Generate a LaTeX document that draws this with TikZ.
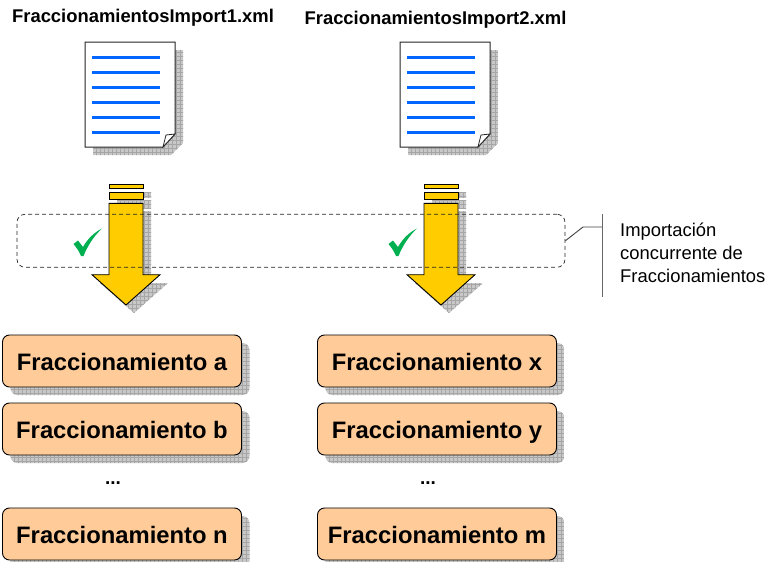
\documentclass[tikz,border=0pt]{standalone}
\usepackage{fontspec}
\setmainfont{Liberation Sans}
\usetikzlibrary{calc}
\definecolor{shadowbg}{HTML}{C8C8C8}
\definecolor{shadowgrid}{HTML}{A6A6A6}
\definecolor{boxfill}{HTML}{FFCC99}
\definecolor{arrowfill}{HTML}{FFCC00}
\definecolor{lineblue}{HTML}{0066FF}
\definecolor{checkgreen}{HTML}{00B050}
\newcommand{\gridshadow}[5]{%
  \begin{scope}
    \clip #1;
    \fill[shadowbg] (#2,#3) rectangle (#4,#5);
    \foreach \gx in {#2,\the\numexpr#2+4\relax,...,#4} {\draw[shadowgrid,line width=0.5pt] (\gx,#3) -- (\gx,#5);}
    \foreach \gy in {#3,\the\numexpr#3+4\relax,...,#5} {\draw[shadowgrid,line width=0.5pt] (#2,\gy) -- (#4,\gy);}
  \end{scope}}
\newcommand{\docicon}[1]{%
  \begin{scope}[xshift=#1pt]
    \gridshadow{(93,50) -- (183,50) -- (183,143) -- (171,155) -- (93,155) -- cycle}{92}{48}{184}{156}
    \draw[docline,fill=white] (85,42) -- (175,42) -- (175,134) -- (163,147) -- (85,147) -- cycle;
    \draw[docline,fill=white,line width=0.8pt] (163,147) -- (166,135) -- (175,134) -- cycle;
    \foreach \ly in {57,72,87,102,117,132} {\draw[textline] (92,\ly) -- (160,\ly);}
  \end{scope}}
\newcommand{\bigarrow}[1]{%
  \begin{scope}[xshift=#1pt]
    \gridshadow{(117,192) rectangle (151,197)}{116}{192}{152}{198}
    \gridshadow{(117,200) rectangle (151,208)}{116}{200}{152}{208}
    \gridshadow{(117,211) -- (151,211) -- (151,283) -- (168,283) -- (134,313) -- (100,283) -- (117,283) -- cycle}{100}{208}{168}{316}
    \draw[arrowline] (109,184.3) rectangle (143,188.7);
    \draw[arrowline] (109,192.3) rectangle (143,199.7);
    \draw[arrowline] (109,203.3) -- (143,203.3) -- (143,274.7) -- (160,274.7) -- (126,305) -- (92,274.7) -- (109,274.7) -- cycle;
  \end{scope}}
\newcommand{\checkmark}[1]{%
  \fill[checkgreen,xshift=#1pt] (73.5,244) -- (78,240.5) -- (83,247) .. controls (88,238) and (95,232) .. (102,228.5) .. controls (94,236) and (88,245) .. (83.5,256) -- (81,256) .. controls (79,251) and (76,247) .. (73.5,244) -- cycle;}
\tikzset{
  docline/.style={draw=black!85,line width=1pt,line join=miter},
  textline/.style={draw=lineblue,line width=3pt},
  arrowline/.style={draw=black,fill=arrowfill,line width=0.9pt,line join=miter},
  fracbox/.style={draw=black,fill=boxfill,line width=0.9pt,rounded corners=7pt,minimum width=239pt,minimum height=52pt,inner sep=0pt,text height=18pt,text depth=0pt,font=\fontsize{23.8}{26}\selectfont\bfseries},
  filetitle/.style={font=\fontsize{18.4}{20}\selectfont\bfseries,inner sep=0pt},
  dotslabel/.style={font=\fontsize{19}{20}\selectfont\bfseries,inner sep=0pt},
  notetext/.style={font=\fontsize{18.4}{23}\selectfont,align=left,inner sep=0pt,anchor=west},
  zone/.style={draw=black!85,dashed,dash pattern=on 4pt off 3pt,line width=0.7pt,rounded corners=8pt,minimum width=548pt,minimum height=53pt,inner sep=0pt},
  leader/.style={draw=black!75,line width=0.9pt},
  notebar/.style={draw=black!60,line width=1pt}
}
\newcommand{\fracitem}[4]{%
  \gridshadow{[rounded corners=7pt] (#2+8-119.5,#3+8-26) rectangle (#2+8+119.5,#3+8+26)}{\the\numexpr#2-116\relax}{\the\numexpr#3-20\relax}{\the\numexpr#2+128\relax}{\the\numexpr#3+36\relax}
  \node[fracbox] (#1) at (#2,#3) {#4};}
\begin{document}
\begin{tikzpicture}[x=1pt,y=-1pt]
\useasboundingbox (0,0) rectangle (769,562);
\node[filetitle] (title1) at (143,17.5) {FraccionamientosImport1.xml};
\node[filetitle] (title2) at (435.5,19.5) {FraccionamientosImport2.xml};
\docicon{0}
\docicon{315}
\bigarrow{0}
\bigarrow{315}
\checkmark{0}
\checkmark{315}
\node[zone] (zone) at (291,240.8) {};
\coordinate (elbow) at (583,227);
\coordinate (bartop) at (602,214);
\coordinate (barbot) at (602,297);
\coordinate (barmid) at (602,227);
\draw[leader] (zone.east) -- (elbow) -- (barmid);
\draw[notebar] (bartop) -- (barbot);
\node[notetext] (note) at (620,253) {Importación\\concurrente de\\Fraccionamientos};
\fracitem{a}{122}{361}{Fraccionamiento a}
\fracitem{b}{122}{429}{Fraccionamiento b}
\fracitem{n}{122}{534}{Fraccionamiento n}
\fracitem{x}{437}{361}{Fraccionamiento x}
\fracitem{y}{437}{429}{Fraccionamiento y}
\fracitem{m}{437}{534}{Fraccionamiento m}
\node[dotslabel] (dots1) at (113,483) {...};
\node[dotslabel] (dots2) at (428,483) {...};
\end{tikzpicture}
\end{document}
